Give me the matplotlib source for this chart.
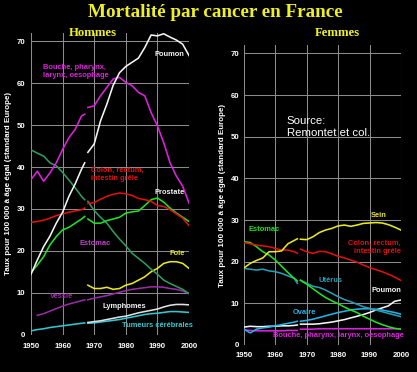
import numpy as np
import matplotlib
matplotlib.use("Agg")
import matplotlib.pyplot as plt

nan = np.nan
years = [1950, 1952, 1954, 1956, 1958, 1960, 1962, 1964, 1966, 1967,
         1968, 1970, 1972, 1974, 1976, 1978, 1980, 1982, 1984, 1986,
         1988, 1990, 1992, 1994, 1996, 1998, 2000]
break_year = 1968

# Hommes
h_poumon = [14.4, 17.8, 21.0, 23.5, 26.6, 29.2, 33.0, 36.0, 39.5, 41.0,
            43.5, 45.5, 51.0, 55.0, 59.5, 62.5, 64.0, 65.0, 66.0, 68.5,
            71.5, 71.3, 71.8, 71.0, 70.3, 69.3, 66.6]
h_bouche = [37.0, 39.0, 36.6, 38.6, 41.0, 44.2, 47.0, 49.0, 52.2, 52.6,
            54.2, 54.6, 57.0, 59.0, 61.0, 61.4, 60.2, 59.4, 57.8, 57.0,
            53.0, 49.8, 45.8, 41.0, 37.8, 35.4, 31.4]
h_colon = [26.8, 27.0, 27.3, 27.8, 28.4, 28.8, 29.2, 29.5, 29.8, 30.2,
           31.3, 31.5, 32.3, 33.0, 33.5, 33.8, 33.6, 33.2, 32.5, 32.2,
           31.8, 30.8, 30.6, 29.8, 28.8, 27.8, 26.0]
h_prostate = [14.8, 16.6, 18.6, 21.4, 23.4, 25.0, 25.6, 26.6, 27.6, 28.2,
              27.6, 26.6, 26.6, 27.2, 27.6, 28.0, 29.0, 29.3, 29.5, 30.8,
              32.2, 32.6, 31.6, 30.2, 29.0, 28.0, 27.0]
h_estomac = [44.1, 43.3, 42.6, 41.0, 40.3, 38.7, 36.9, 35.0, 33.0, 32.2,
             31.8, 29.6, 28.0, 26.6, 24.6, 22.8, 21.2, 19.4, 18.2, 17.0,
             15.6, 14.4, 13.0, 12.2, 11.5, 10.8, 9.8]
h_foie = [nan] * 10 + [11.8, 11.0, 11.0, 11.3, 10.8, 11.0, 11.8, 12.2, 13.0, 13.8,
                       15.0, 15.8, 17.0, 17.4, 17.4, 17.0, 15.8]
h_vessie = [nan, 4.6, 5.0, 5.6, 6.2, 6.8, 7.3, 7.7, 8.1, 8.3,
            8.3, 8.7, 9.0, 9.3, 9.7, 10.1, 10.5, 10.8, 11.0, 11.2,
            11.4, 11.4, 11.3, 11.0, 10.8, 10.4, 9.8]
h_lymphomes = [nan] * 10 + [2.9, 3.1, 3.3, 3.6, 3.9, 4.2, 4.4, 4.8, 5.2, 5.5,
                            5.8, 6.1, 6.6, 7.0, 7.2, 7.2, 7.1]
h_tumeurs = [0.9, 1.2, 1.4, 1.7, 1.9, 2.1, 2.3, 2.5, 2.7, 2.8,
             2.7, 2.8, 3.0, 3.2, 3.4, 3.6, 3.9, 4.2, 4.5, 4.8,
             5.0, 5.1, 5.3, 5.5, 5.5, 5.4, 5.3]

# Femmes
f_sein = [18.5, 19.6, 20.3, 20.9, 22.4, 22.4, 22.6, 24.3, 25.1, 25.5,
          25.4, 25.3, 26.0, 27.0, 27.6, 28.0, 28.6, 28.8, 28.5, 28.8,
          29.2, 29.3, 29.4, 29.3, 28.9, 28.3, 27.6]
f_colon = [24.6, 24.3, 24.0, 23.8, 23.6, 23.2, 22.8, 22.8, 22.4, 22.0,
           23.0, 22.4, 22.0, 22.5, 22.4, 21.9, 21.3, 20.9, 20.4, 19.9,
           19.2, 18.6, 18.1, 17.6, 17.0, 16.3, 15.5]
f_estomac = [24.8, 24.6, 23.6, 22.4, 21.6, 20.4, 18.9, 17.4, 16.0, 15.4,
             15.5, 14.6, 13.5, 12.4, 11.4, 10.6, 9.9, 9.1, 8.4, 7.8,
             6.9, 6.2, 5.5, 4.9, 4.4, 4.0, 3.8]
f_uterus = [18.4, 18.2, 18.0, 18.2, 17.8, 17.6, 17.2, 16.6, 16.0, 14.8,
            15.6, 14.8, 14.1, 13.8, 13.2, 12.4, 11.6, 10.9, 10.4, 9.8,
            9.2, 8.8, 8.4, 8.0, 7.6, 7.2, 6.8]
f_ovaire = [3.8, 2.9, 3.8, 4.1, 4.3, 4.6, 4.9, 5.2, 5.5, 5.7,
            5.7, 5.9, 6.2, 6.6, 7.0, 7.4, 7.8, 8.1, 8.4, 8.6,
            8.7, 8.7, 8.6, 8.4, 8.1, 7.8, 7.4]
f_poumon = [4.3, 4.5, 4.4, 4.4, 4.5, 4.5, 4.6, 4.6, 4.7, 4.8,
            5.0, 5.0, 5.0, 5.1, 5.3, 5.5, 5.8, 6.1, 6.5, 6.9,
            7.3, 7.8, 8.4, 8.9, 9.4, 10.5, 10.8]
f_bouche = [3.6, 3.5, 3.4, 3.4, 3.4, 3.4, 3.4, 3.5, 3.5, 3.5,
            3.8, 3.8, 3.8, 3.9, 3.9, 3.9, 3.9, 3.9, 3.9, 3.9,
            3.9, 3.9, 3.9, 3.9, 3.9, 3.9, 3.9]

xticks = [1950, 1960, 1970, 1980, 1990, 2000]
yticks = [0, 10, 20, 30, 40, 50, 60, 70]
title = "Mortalité par cancer en France"
ylabel = "Taux pour 100 000 à âge égal (standard Europe)"

C_MAG = "#e020e0"
C_RED = "#e01010"
C_GRN = "#22e022"
C_SEA = "#2f9a5e"
C_YEL = "#e8e820"
C_PUR = "#9a2aa8"
C_CYA = "#30c8d0"
C_WHT = "#f4f4f4"
C_STL = "#2a9cb4"
C_SKY = "#22b4e8"

fig = plt.figure(figsize=(4.17, 3.72), dpi=100, facecolor="black")
axL = fig.add_axes([0.0743, 0.1005, 0.379, 0.811])
axR = fig.add_axes([0.585, 0.0726, 0.3765, 0.806])

yrs = np.array(years, dtype=float)
split = yrs < break_year


def draw(ax, vals, color, lw=1.15):
    v = np.array(vals, dtype=float)
    ax.plot(yrs[split], v[split], color=color, lw=lw, solid_joinstyle="round")
    ax.plot(yrs[~split], v[~split], color=color, lw=lw, solid_joinstyle="round")


for ax, pad_x, pad_y in ((axL, 6.0, 4.3), (axR, 5.0, 3.6)):
    ax.set_facecolor("black")
    ax.set_xlim(1950, 2000)
    ax.set_ylim(0, 72)
    ax.set_xticks(xticks)
    ax.set_yticks(yticks)
    ax.grid(True, color="#8c8c8c", lw=0.75)
    ax.set_axisbelow(True)
    for s in ax.spines.values():
        s.set_visible(False)
    ax.tick_params(axis="x", length=0, pad=pad_x, colors="white", labelsize=5.6)
    ax.tick_params(axis="y", length=0, pad=pad_y, colors="white", labelsize=5.6)
    for lab in ax.get_xticklabels() + ax.get_yticklabels():
        lab.set_fontweight("bold")
        lab.set_family("Liberation Sans")
    ax.set_ylabel(ylabel, color="white", fontsize=5.8, fontweight="bold",
                  family="Liberation Sans", labelpad=3)

# Men
draw(axL, h_tumeurs, C_CYA)
draw(axL, h_lymphomes, "#e0e0e0")
draw(axL, h_vessie, C_PUR)
draw(axL, h_foie, C_YEL)
draw(axL, h_estomac, C_SEA)
draw(axL, h_prostate, C_GRN)
draw(axL, h_colon, C_RED)
draw(axL, h_bouche, C_MAG)
draw(axL, h_poumon, C_WHT)

# Women
draw(axR, f_bouche, C_MAG)
draw(axR, f_poumon, C_WHT)
draw(axR, f_ovaire, C_SKY)
draw(axR, f_uterus, C_STL)
draw(axR, f_estomac, C_GRN)
draw(axR, f_colon, C_RED)
draw(axR, f_sein, C_YEL)

lab_kw = dict(fontsize=5.4, fontweight="bold", family="Liberation Sans",
              va="center", ha="left", linespacing=1.25)

axL.text(1989.2, 66.9, "Poumon", color=C_WHT, **lab_kw)
axL.text(1953.8, 62.8, "Bouche, pharynx,\nlarynx, oesophage", color=C_MAG, **lab_kw)
axL.text(1969.0, 38.2, "Colon, rectum,\nintestin grêle", color=C_RED, **lab_kw)
axL.text(1989.2, 33.9, "Prostate", color=C_WHT, **lab_kw)
axL.text(1965.5, 21.7, "Estomac", color="#c040c8", **lab_kw)
axL.text(1993.8, 19.3, "Foie", color=C_YEL, **lab_kw)
axL.text(1956.0, 9.0, "Vessie", color=C_PUR, **lab_kw)
axL.text(1972.5, 6.8, "Lymphomes", color=C_WHT, **lab_kw)
axL.text(1978.8, 2.1, "Tumeurs cérébrales", color=C_CYA, **lab_kw)

axR.text(1990.5, 31.2, "Sein", color=C_YEL, **lab_kw)
axR.text(1951.3, 27.8, "Estomac", color=C_GRN, **lab_kw)
axR.text(2000.0, 23.4, "Colon, rectum,\nintestin grêle", color=C_RED,
         **{**lab_kw, "ha": "right"})
axR.text(1973.7, 15.6, "Utérus", color=C_STL, **lab_kw)
axR.text(2000.0, 13.2, "Poumon", color=C_WHT, **{**lab_kw, "ha": "right"})
axR.text(1965.4, 7.7, "Ovaire", color=C_SKY, **lab_kw)
axR.text(1959.3, 2.2, "Bouche, pharynx, larynx, oesophage", color=C_MAG, **lab_kw)
axR.text(1963.7, 52.3, "Source:\nRemontet et col.", color="white", fontsize=8.2,
         family="Liberation Sans", va="center", ha="left", linespacing=1.3)

fig.text(0.517, 0.966, title, color="#f0f020", fontsize=13.8, fontweight="bold",
         family="Liberation Serif", ha="center", va="center")
fig.text(0.223, 0.911, "Hommes", color="#f0f020", fontsize=9.2, fontweight="bold",
         family="Liberation Serif", ha="center", va="center")
fig.text(0.808, 0.911, "Femmes", color="#f0f020", fontsize=9.2, fontweight="bold",
         family="Liberation Serif", ha="center", va="center")

fig.savefig("out.png", dpi=100, facecolor="black")
